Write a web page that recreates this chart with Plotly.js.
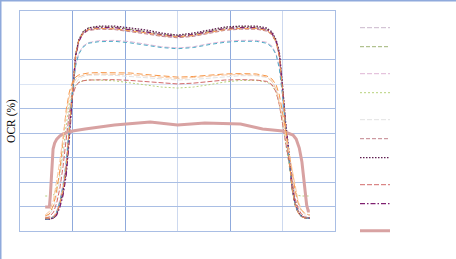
<!DOCTYPE html>
<html>
<head>
<meta charset="utf-8">
<script src="https://cdn.plot.ly/plotly-3.0.1.min.js"></script>
<style>html,body{margin:0;padding:0;background:#fff;}#chart{width:456px;height:259px;}</style>
</head>
<body>
<div id="chart"></div>
<script>
// Position across the field (mm) shared by the profile series
var positions = [-126,-122,-118,-115,-112,-109,-106,-103,-100,-97,-94,-90,-85,-75,-60,-45,-30,-15,0,15,30,45,60,75,85,90,94,97,100,103,106,109,112,115,118,122,126];

// OCR (%) values
var seriesLightMauve = [6.6,6.6,7.2,9.5,14.5,22.0,33.0,52.0,74.0,90.5,97.5,101.0,102.8,103.5,103.3,102.3,101.2,99.8,99.0,99.8,101.5,103.0,103.5,103.5,102.5,100.5,96.5,89.5,72.5,53.5,39.5,22.0,13.5,9.3,7.3,6.6,6.6];
var seriesOlive = [6.1,6.1,6.6,8.7,13.8,21.0,32.0,51.0,73.5,90.5,98.0,102.0,103.8,104.5,104.3,103.3,102.0,100.6,100.0,100.6,102.3,103.8,104.5,104.3,103.3,101.3,97.2,90.0,73.0,53.0,39.0,21.5,13.0,9.2,7.2,6.6,6.6];
var seriesPink = [6.6,6.6,7.7,10.2,16.0,24.0,36.0,55.0,72.0,85.0,91.0,94.5,96.3,97.3,97.5,96.8,95.5,94.2,93.6,94.2,95.8,97.0,97.5,97.5,96.5,94.5,90.5,84.0,70.0,52.0,38.0,22.5,14.0,9.7,7.7,6.6,6.6];
var seriesYellowGreen = [17.9,17.9,18.4,22.0,29.0,40.0,54.0,65.0,71.5,74.5,76.0,76.8,77.2,77.2,76.8,75.8,74.6,73.6,73.1,73.6,74.8,76.2,77.0,77.0,76.2,74.5,71.0,65.0,55.0,44.0,34.0,24.5,19.5,18.2,17.9,17.9,17.9];
var seriesLightGray = [7.2,8.2,12.0,18.0,27.0,39.0,52.0,63.0,71.0,75.5,77.8,79.0,79.6,79.8,79.6,79.0,78.2,77.5,77.2,77.5,78.2,79.0,79.4,79.4,78.5,76.5,72.5,66.0,57.0,47.5,38.5,28.5,19.5,13.5,10.0,8.2,7.7];
var seriesDustyRose = [6.6,6.6,7.2,9.2,14.0,21.5,32.5,51.5,73.5,90.0,97.0,100.8,102.5,103.2,103.0,102.0,100.8,99.5,98.8,99.5,101.2,102.6,103.2,103.2,102.2,100.3,96.2,89.0,72.0,53.0,39.0,22.0,13.5,9.3,7.3,6.6,6.6];
var seriesDarkPurple = [6.1,6.1,6.6,8.7,13.3,19.9,30.2,49.1,72.1,90.0,97.7,101.8,103.8,104.8,104.8,103.8,102.8,101.2,100.2,101.2,102.8,104.3,104.8,104.8,103.8,101.8,97.7,91.5,74.7,55.7,41.4,23.5,14.3,9.7,7.7,6.6,6.6];
var seriesSalmon = [6.6,7.2,9.7,14.5,22.0,33.0,47.0,60.0,69.0,74.0,76.0,76.8,77.2,77.4,77.4,77.0,76.3,75.6,75.2,75.6,76.5,77.2,77.4,77.2,76.5,74.8,71.0,64.5,55.0,45.0,35.0,25.0,16.5,11.5,8.7,7.2,6.6];
var seriesPurple = [6.1,6.1,6.6,8.2,12.3,18.4,28.6,47.0,70.5,89.0,97.0,101.0,103.0,104.0,104.0,103.0,101.8,100.4,99.5,100.4,102.0,103.5,104.0,104.0,103.0,101.0,97.0,90.5,73.5,54.0,40.0,22.5,13.8,9.5,7.5,6.6,6.6];
var seriesCyan = [6.1,6.1,7.2,9.7,15.0,23.0,35.0,54.0,71.5,84.5,90.5,94.0,96.0,96.8,97.0,96.2,95.0,93.8,93.2,93.8,95.3,96.5,97.0,97.0,96.0,94.0,90.0,83.0,69.5,51.5,37.5,22.0,13.5,9.5,7.5,6.6,6.6];
var seriesOrangeTop = [6.6,6.6,7.2,9.2,14.0,21.5,33.0,52.0,74.0,90.5,97.5,101.3,103.0,103.6,103.4,102.5,101.3,100.0,99.3,100.0,101.6,103.0,103.6,103.6,102.6,100.6,96.5,89.5,72.5,53.0,39.0,22.0,13.5,9.3,7.3,6.6,6.6];
var seriesOrangeMid = [7.7,8.7,13.3,21.0,31.2,46.5,61.9,71.1,76.2,78.7,79.8,80.3,80.8,81.0,81.0,80.8,80.0,79.3,78.7,79.0,79.8,80.3,80.5,80.3,79.3,77.7,74.7,69.5,60.9,50.6,41.4,31.2,21.0,14.3,10.7,8.7,8.2];
var seriesPeach = [8.2,10.0,16.0,25.0,36.0,48.0,60.0,69.0,74.5,77.5,78.8,79.6,80.0,80.3,80.3,80.0,79.3,78.5,78.0,78.5,79.3,79.8,80.0,79.8,78.8,76.5,72.5,66.0,58.0,49.0,40.5,31.0,21.5,15.0,11.0,8.7,8.2];

// Thick profile has its own positions
var thickPositions = [-126,-122,-121,-119.5,-118.5,-117,-115,-112,-109,-100,-88,-60,-26,0,26,60,81,100,106,110,113,116,118.5,120,121.5,123,124.5,126];
var thickValues = [12.3,12.3,18.9,35.3,41.9,45.0,47.0,48.6,49.6,51.1,52.2,54.2,55.7,54.2,55.2,54.7,52.2,51.1,50.1,49.1,47.0,42.4,35.3,27.1,18.9,13.3,10.2,10.2];

// Gridline positions
var yMajorTicks = [12.5,25,37.5,50,62.5,87.5];
var yMinorTicks = [75];
var xMajorTicks = [-100,-50,50];
var xMinorTicks = [0,100];

function tr(x, y, color, dash, width, group, show) {
  return {x: x, y: y, type: 'scatter', mode: 'lines', name: '',
    line: {color: color, dash: dash, width: width},
    legendgroup: group, showlegend: show, hoverinfo: 'skip'};
}

var data = [
  tr(positions, seriesLightMauve, '#cbb7cc', '5px,2px', 1, 'g1', true),
  tr(positions, seriesOlive, '#9fb476', '4px,2px', 1, 'g1', true),
  tr(positions, seriesPink, '#dfb6d6', '5px,2px', 1, 'g2', true),
  tr(positions, seriesYellowGreen, '#b7d27c', '2px,2px', 1, 'g2', true),
  tr(positions, seriesLightGray, '#e2e2e2', '5px,2px', 1, 'g3', true),
  tr(positions, seriesDustyRose, '#c2838c', '4px,2px', 1, 'g3', true),
  tr(positions, seriesDarkPurple, '#5f1f50', '1.5px,1.5px', 1.3, 'g3', true),
  tr(positions, seriesSalmon, '#d26a6a', '5px,2px', 1, 'g4', true),
  tr(positions, seriesPurple, '#7f2070', '5px,2px,1.5px,2px', 1.3, 'g4', true),
  tr(thickPositions, thickValues, '#d8a2a2', 'solid', 3, 'g5', true),
  tr(positions, seriesCyan, '#4bacc6', '4px,3px', 1, 'g6', false),
  tr(positions, seriesOrangeTop, '#f59b50', '5px,3px', 1, 'g6', false),
  tr(positions, seriesOrangeMid, '#f79646', '6px,3px', 1, 'g6', false),
  tr(positions, seriesPeach, '#f8c7a0', '6px,2px', 1, 'g6', false)
];

var layout = {
  width: 456, height: 259,
  margin: {l: 20, r: 121, t: 11, b: 28, pad: 0},
  paper_bgcolor: '#ffffff', plot_bgcolor: '#ffffff',
  showlegend: true,
  legend: {x: 1.0635, xanchor: 'left', y: 0.99, yanchor: 'top',
    tracegroupgap: 8, font: {size: 10}, bgcolor: 'rgba(0,0,0,0)', traceorder: 'grouped'},
  xaxis: {range: [-150, 150], tickmode: 'array', tickvals: xMajorTicks,
    showticklabels: false, ticks: '', showgrid: true, gridcolor: '#8faadc', gridwidth: 1,
    minor: {tickmode: 'array', tickvals: xMinorTicks, showgrid: true, gridcolor: '#cdd9ef', ticks: ''},
    zeroline: false, showline: true, linecolor: '#a9bee4', linewidth: 1, mirror: true, fixedrange: true},
  yaxis: {range: [0, 112.5], tickmode: 'array', tickvals: yMajorTicks,
    showticklabels: false, ticks: '', showgrid: true, gridcolor: '#a9bee4', gridwidth: 1,
    minor: {tickmode: 'array', tickvals: yMinorTicks, showgrid: true, gridcolor: '#dce5f4', ticks: ''},
    zeroline: false, showline: true, linecolor: '#a9bee4', linewidth: 1, mirror: true, fixedrange: true,
    title: {text: 'OCR (%)', standoff: 0, font: {family: 'Liberation Serif', size: 11.5, color: '#000000'}}},
  shapes: [
    {type: 'line', xref: 'paper', yref: 'paper', x0: -0.07, x1: 1.4, y0: 1.048, y1: 1.048,
      line: {color: '#8faadc', width: 2}},
    {type: 'line', xref: 'paper', yref: 'paper', x0: -0.0619, x1: -0.0619, y0: -0.2, y1: 1.06,
      line: {color: '#8faadc', width: 2}}
  ]
};

Plotly.newPlot('chart', data, layout, {displayModeBar: false, staticPlot: true});
</script>
</body>
</html>
